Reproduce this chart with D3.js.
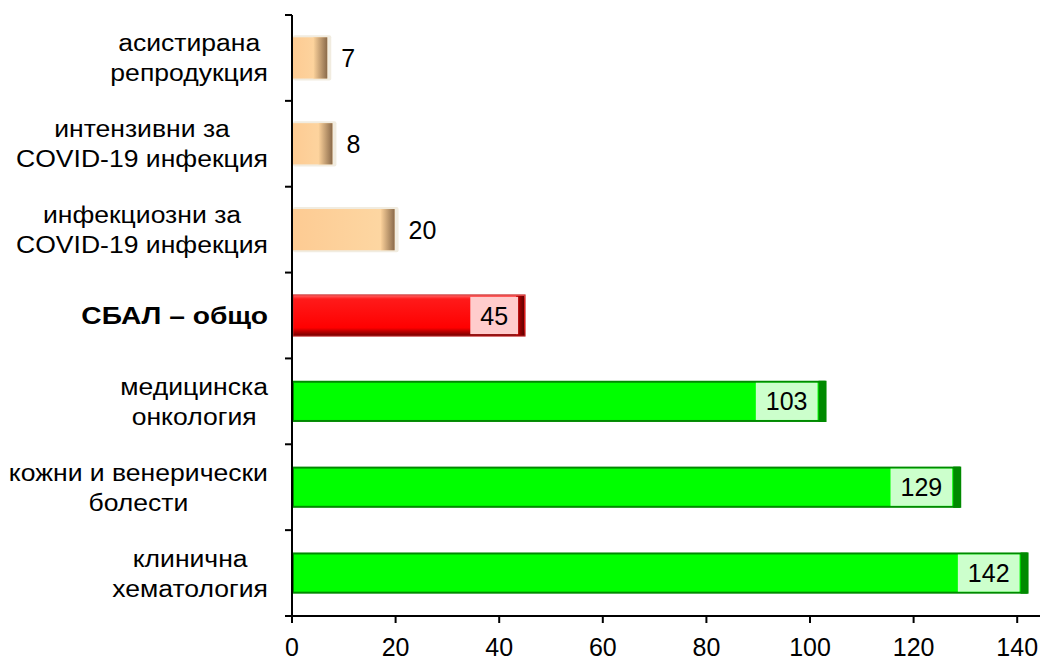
<!DOCTYPE html>
<html>
<head>
<meta charset="utf-8">
<script src="https://cdn.jsdelivr.net/npm/d3@7"></script>
<style>
  html, body { margin: 0; padding: 0; background: #fff; }
  svg { display: block; font-family: "Liberation Sans", Arial, sans-serif; }
</style>
</head>
<body>
<svg id="chart" width="1043" height="660"></svg>
<script>
// Data (top to bottom)
const categories = [
  ["асистирана", "репродукция"],
  ["интензивни за", "COVID-19 инфекция"],
  ["инфекциозни за", "COVID-19 инфекция"],
  ["СБАЛ – общо"],
  ["медицинска", "онкология"],
  ["кожни и венерически", "болести"],
  ["клинична", "хематология"]
];
const values = [7, 8, 20, 45, 103, 129, 142];
const groups = ["beige", "beige", "beige", "red", "green", "green", "green"];
const boldFlags = [false, false, false, true, false, false, false];
const xTicks = [0, 20, 40, 60, 80, 100, 120, 140];

(function () {
const svg = d3.select("#chart");
const pLeft = 292, pRight = 1040, pTop = 15, pBottom = 616;
const FS = 25;

const x = d3.scaleLinear().domain([0, 144.4]).range([pLeft, pRight]);
const keys = categories.map((c, i) => i);
const y = d3.scaleBand().domain(keys).range([pTop, pBottom]).paddingInner(0.52).paddingOuter(0.26);

const defs = svg.append("defs");
const gBeige = defs.append("linearGradient").attr("id", "beigeEdge").attr("x1", 0).attr("x2", 1).attr("y1", 0).attr("y2", 0);
gBeige.append("stop").attr("offset", "0%").attr("stop-color", "#fdd39c");
gBeige.append("stop").attr("offset", "100%").attr("stop-color", "#8a6a4a");
const gBeigeLeft = defs.append("linearGradient").attr("id", "beigeBody").attr("x1", 0).attr("x2", 1).attr("y1", 0).attr("y2", 0);
gBeigeLeft.append("stop").attr("offset", "0%").attr("stop-color", "#fdcb93");
gBeigeLeft.append("stop").attr("offset", "100%").attr("stop-color", "#fdd8a4");
const gRedEdge = defs.append("linearGradient").attr("id", "redEdge").attr("x1", 0).attr("x2", 1).attr("y1", 0).attr("y2", 0);
gRedEdge.append("stop").attr("offset", "0%").attr("stop-color", "#d00000");
gRedEdge.append("stop").attr("offset", "100%").attr("stop-color", "#600000");
const gRedV = defs.append("linearGradient").attr("id", "redV").attr("x1", 0).attr("x2", 0).attr("y1", 0).attr("y2", 1);
gRedV.append("stop").attr("offset", "0%").attr("stop-color", "#ff6a6a");
gRedV.append("stop").attr("offset", "10%").attr("stop-color", "#ff1a1a");
gRedV.append("stop").attr("offset", "80%").attr("stop-color", "#ff0000");
gRedV.append("stop").attr("offset", "88%").attr("stop-color", "#c00000");
gRedV.append("stop").attr("offset", "100%").attr("stop-color", "#700000");

const bars = svg.append("g");
const labels = svg.append("g");
categories.forEach((c, i) => {
  const v = values[i];
  const x0 = x(0), x1 = x(v);
  const by = y(i), bh = y.bandwidth();
  const w = x1 - x0;
  const g = bars.append("g");
  const grp = groups[i];
  if (grp === "beige") {
    g.append("rect").attr("x", x0 + 1).attr("y", by - 2).attr("width", w + 2).attr("height", bh + 4)
      .attr("fill", "#f1ece0").attr("rx", 2);
    g.append("rect").attr("x", x0 + 1).attr("y", by).attr("width", w - 2).attr("height", bh)
      .attr("fill", "url(#beigeBody)");
    const ew = Math.min(14, w * 0.45);
    g.append("rect").attr("x", x1 - 1 - ew).attr("y", by).attr("width", ew).attr("height", bh)
      .attr("fill", "url(#beigeEdge)");
    labels.append("text").attr("x", x1 + 13).attr("y", by + bh / 2).attr("dy", "0.36em")
      .attr("font-size", FS).attr("fill", "#000").text(v);
  } else if (grp === "red") {
    g.append("rect").attr("x", x0 + 1).attr("y", by).attr("width", w - 1).attr("height", bh)
      .attr("fill", "url(#redV)").attr("stroke", "#c83030").attr("stroke-width", 1);
    g.append("rect").attr("x", x1 - 9).attr("y", by + 1).attr("width", 8).attr("height", bh - 2)
      .attr("fill", "url(#redEdge)");
  } else {
    g.append("rect").attr("x", x0 + 1).attr("y", by + 1).attr("width", w - 1).attr("height", bh - 2)
      .attr("fill", "#00ff00").attr("stroke", "#008a00").attr("stroke-width", 2);
    g.append("rect").attr("x", x1 - 7).attr("y", by).attr("width", 7).attr("height", bh)
      .attr("fill", "#008a00");
  }
  if (grp !== "beige") {
    const lg = labels.append("g");
    const box = lg.append("rect");
    const t = lg.append("text").attr("font-size", FS).attr("fill", "#000")
      .attr("text-anchor", "middle").attr("y", by + bh / 2).attr("dy", "0.36em").text(v);
    const tw = t.node().getComputedTextLength();
    const boxW = tw + 20;
    const boxR = x1 - (grp === "red" ? 7 : 8);
    box.attr("x", boxR - boxW).attr("y", by + 2).attr("width", boxW).attr("height", bh - 4)
      .attr("fill", grp === "red" ? "#ffcccc" : "#ccffcc");
    t.attr("x", boxR - boxW / 2);
  }
});

// Axes
const axisG = svg.append("g").attr("stroke", "#000").attr("stroke-width", 2);
axisG.append("line").attr("x1", pLeft).attr("x2", pLeft).attr("y1", pTop).attr("y2", pBottom + 1);
axisG.append("line").attr("x1", pLeft - 1).attr("x2", pRight).attr("y1", pBottom).attr("y2", pBottom);
const step = y.step();
for (let k = 0; k <= categories.length; k++) {
  const yy = pTop + k * step;
  axisG.append("line").attr("x1", pLeft - 7).attr("x2", pLeft).attr("y1", yy).attr("y2", yy);
}
xTicks.forEach(t => {
  axisG.append("line").attr("x1", x(t)).attr("x2", x(t)).attr("y1", pBottom).attr("y2", pBottom + 7);
  svg.append("text").attr("x", x(t)).attr("y", 656).attr("text-anchor", "middle")
    .attr("font-size", FS).attr("fill", "#000").text(t);
});

// Category labels: block right-aligned at 268, lines centered within block
const CFS = 23.5;
categories.forEach((lines, i) => {
  const cy = y(i) + y.bandwidth() / 2;
  const lh = 30;
  const sx = boldFlags[i] ? 1.2 : 1.13;
  const lg = svg.append("g");
  const texts = lines.map((ln, j) => lg.append("text")
    .attr("font-size", CFS).attr("fill", "#000")
    .attr("font-weight", boldFlags[i] ? "bold" : "normal")
    .attr("text-anchor", "middle").attr("x", 0)
    .attr("y", (j - (lines.length - 1) / 2) * lh).attr("dy", "0.36em").text(ln));
  const maxW = d3.max(texts, t => t.node().getComputedTextLength());
  lg.attr("transform", `translate(${268 - maxW * sx / 2},${cy}) scale(${sx},1)`);
});
})();
</script>
</body>
</html>
